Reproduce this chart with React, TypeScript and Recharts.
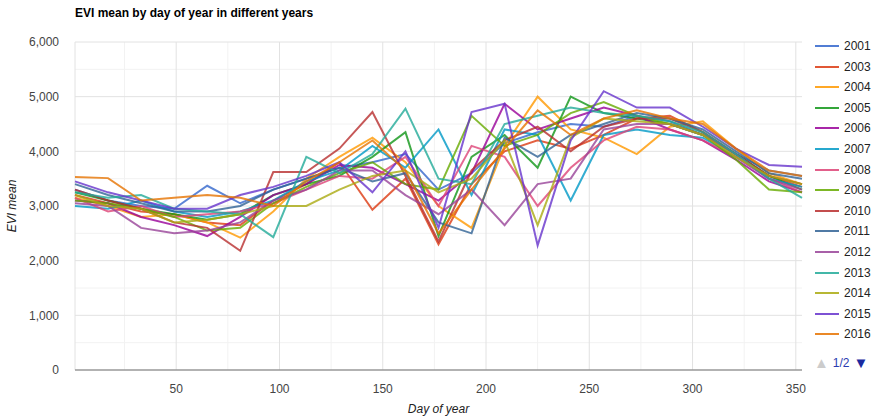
import React from "react";
import {
  LineChart,
  Line,
  XAxis,
  YAxis,
  CartesianGrid,
} from "recharts";

const days = [1, 17, 33, 49, 65, 81, 97, 113, 129, 145, 161, 177, 193, 209, 225, 241, 257, 273, 289, 305, 321, 337, 353];

const years = ["2001", "2003", "2004", "2005", "2006", "2007", "2008", "2009", "2010", "2011", "2012", "2013", "2014", "2015", "2016"];

const colors = ["#3366cc", "#dc3912", "#ff9900", "#109618", "#990099", "#0099c6", "#dd4477", "#66aa00", "#b82e2e", "#316395", "#994499", "#22aa99", "#aaaa11", "#6633cc", "#e67300"];

const evi2001 = [3300, 3100, 3000, 2950, 3370, 3050, 3300, 3500, 3700, 3800, 3950, 3300, 3600, 4150, 4350, 4500, 4450, 4650, 4550, 4300, 3950, 3650, 3550];
const evi2003 = [3200, 3050, 2900, 2850, 2700, 2650, 3100, 3400, 3800, 2930, 3500, 2300, 3400, 4000, 4200, 4050, 4300, 4600, 4650, 4350, 3950, 3550, 3350];
const evi2004 = [3150, 3000, 2800, 2850, 2700, 2420, 2900, 3500, 3900, 4250, 3800, 3000, 2600, 4100, 5000, 4400, 4250, 3950, 4450, 4550, 4050, 3600, 3400];
const evi2005 = [3250, 3100, 2950, 2850, 2750, 2850, 3200, 3400, 3550, 3900, 4350, 2450, 3900, 4300, 3700, 5000, 4700, 4600, 4500, 4300, 3950, 3550, 3300];
const evi2006 = [3100, 3050, 2800, 2650, 2450, 2800, 3200, 3400, 3750, 3700, 3400, 3100, 3600, 4870, 4400, 4600, 4800, 4650, 4400, 4200, 3850, 3450, 3250];
const evi2007 = [3000, 2950, 3100, 2900, 2800, 2900, 3100, 3450, 3650, 4100, 3700, 4400, 3200, 4400, 4300, 3100, 4300, 4400, 4300, 4250, 3900, 3500, 3350];
const evi2008 = [3150, 2900, 3000, 2800, 2850, 2900, 3050, 3300, 3550, 3500, 3900, 3000, 4100, 3900, 3000, 3700, 4200, 4450, 4400, 4200, 3900, 3500, 3250];
const evi2009 = [3100, 3050, 2950, 2800, 2550, 2600, 3050, 3350, 3600, 3800, 3400, 3300, 4650, 4100, 4300, 4700, 4900, 4650, 4500, 4300, 3850, 3300, 3250];
const evi2010 = [3300, 3100, 2950, 2700, 2600, 2180, 3620, 3620, 4050, 4720, 3550, 2350, 3650, 4200, 4450, 4000, 4450, 4600, 4600, 4350, 3950, 3550, 3400];
const evi2011 = [3400, 3200, 3050, 2900, 2900, 3000, 3300, 3500, 3700, 3450, 3600, 2700, 2500, 4250, 3900, 4300, 4500, 4700, 4600, 4400, 4000, 3600, 3500];
const evi2012 = [3050, 3000, 2600, 2500, 2550, 2700, 3100, 3300, 3650, 3650, 3200, 2850, 3300, 2650, 3400, 3500, 4400, 4500, 4500, 4300, 3950, 3500, 3300];
const evi2013 = [3250, 3150, 3200, 2950, 2900, 2850, 2430, 3900, 3600, 3950, 4780, 3500, 3400, 4500, 4650, 4800, 4700, 4650, 4550, 4350, 3950, 3500, 3150];
const evi2014 = [3200, 3000, 2950, 2700, 2750, 2850, 3000, 3000, 3300, 3550, 3650, 3250, 3500, 4200, 2650, 4250, 4600, 4550, 4500, 4300, 3900, 3550, 3400];
const evi2015 = [3450, 3250, 3100, 2950, 2950, 3200, 3350, 3550, 3800, 3250, 4000, 2600, 4720, 4870, 2280, 4200, 5100, 4800, 4800, 4450, 4050, 3750, 3720];
const evi2016 = [3530, 3510, 3100, 3150, 3200, 3150, 3000, 3450, 3800, 4200, 3650, 2500, 3300, 4050, 4750, 4300, 4600, 4750, 4600, 4500, 4050, 3650, 3550];

const series = [evi2001, evi2003, evi2004, evi2005, evi2006, evi2007, evi2008, evi2009, evi2010, evi2011, evi2012, evi2013, evi2014, evi2015, evi2016];

const yTicks = [0, 1000, 2000, 3000, 4000, 5000, 6000];
const xTicks = [50, 100, 150, 200, 250, 300, 350];

const data = days.map((d, i) => {
  const row: Record<string, number> = { day: d };
  years.forEach((y, j) => {
    row[y] = series[j][i];
  });
  return row;
});

const font = "Arial, 'Liberation Sans', sans-serif";

export default function App() {
  return (
    <div style={{ position: "absolute", left: 0, top: 0, width: 880, height: 419, background: "#fff", fontFamily: font }}>
      <div style={{ position: "absolute", left: 75, top: 6, fontSize: 12, fontWeight: "bold", color: "#000" }}>
        EVI mean by day of year in different years
      </div>
      <LineChart
        width={880}
        height={419}
        data={data}
        margin={{ top: 42, right: 78, bottom: 0, left: 0 }}
      >
        <CartesianGrid
          stroke="#f2f2f2"
          horizontalValues={[500, 1500, 2500, 3500, 4500, 5500]}
          verticalValues={[25, 75, 125, 175, 225, 275, 325]}
        />
        <CartesianGrid
          stroke="#e2e2e2"
          horizontalValues={[1000, 2000, 3000, 4000, 5000, 6000]}
          verticalValues={[1, 50, 100, 150, 200, 250, 300, 350]}
        />
        <XAxis
          dataKey="day"
          type="number"
          domain={[1, 353]}
          ticks={xTicks}
          height={49}
          tickLine={false}
          axisLine={{ stroke: "#999", strokeWidth: 1.5 }}
          tick={{ fontSize: 12, fill: "#444", fontFamily: font }}
          tickMargin={8}
          label={{ value: "Day of year", position: "insideBottom", offset: 6, fontSize: 12, fontStyle: "italic", fill: "#222", fontFamily: font }}
        />
        <YAxis
          type="number"
          domain={[0, 6000]}
          ticks={yTicks}
          width={75}
          tickLine={false}
          axisLine={false}
          tickFormatter={(v: number) => v.toLocaleString("en-US")}
          tick={{ fontSize: 12, fill: "#444", fontFamily: font }}
          tickMargin={10}
          label={{ value: "EVI mean", angle: -90, position: "insideLeft", offset: 12, fontSize: 12, fontStyle: "italic", fill: "#222", fontFamily: font, style: { textAnchor: "middle" } }}
        />
        {years.map((y, j) => (
          <Line
            key={y}
            type="linear"
            dataKey={y}
            stroke={colors[j]}
            strokeWidth={2}
            strokeOpacity={0.8}
            dot={false}
            isAnimationActive={false}
          />
        ))}
      </LineChart>
      {years.map((y, j) => (
        <div key={y} style={{ position: "absolute", left: 815, top: 46 + j * 20.6 - 8, height: 16, display: "flex", alignItems: "center", fontSize: 12, color: "#222" }}>
          <span style={{ display: "inline-block", width: 24, height: 2, background: colors[j], opacity: 0.85, marginRight: 5 }} />
          {y}
        </div>
      ))}
      <div style={{ position: "absolute", left: 814, top: 354, fontSize: 12, display: "flex", alignItems: "center" }}>
        <span style={{ color: "#ccc", fontSize: 15 }}>▲</span>
        <span style={{ color: "#2a3bb0", margin: "0 4px" }}>1/2</span>
        <span style={{ color: "#1a2aa0", fontSize: 15 }}>▼</span>
      </div>
    </div>
  );
}
